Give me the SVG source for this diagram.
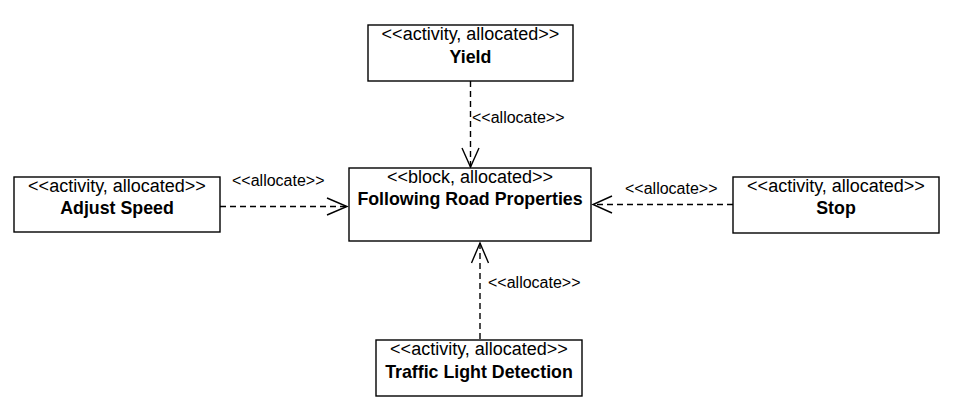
<svg xmlns="http://www.w3.org/2000/svg" width="959" height="409" viewBox="0 0 959 409">
<style>
.box{fill:#fff;stroke:#000;stroke-width:1.4}
.st{font-family:"Liberation Sans",Arial,sans-serif;font-size:18px;text-anchor:middle;fill:#000}
.nm{font-family:"Liberation Sans",Arial,sans-serif;font-size:17.8px;font-weight:bold;text-anchor:middle;fill:#000}
.lb{font-family:"Liberation Sans",Arial,sans-serif;font-size:16px;fill:#000}
.ln{fill:none;stroke:#000;stroke-width:1.4;stroke-dasharray:6 4}
.hd{fill:none;stroke:#000;stroke-width:1.4}
</style>
<rect width="959" height="409" fill="#fff"/>
<g id="connectors">
<g id="e-yield">
<line class="ln" x1="470.5" y1="81" x2="470.5" y2="167"/>
<polyline class="hd" points="462,148 470.5,167 479,148"/>
<text class="lb" x="472" y="123">&lt;&lt;allocate&gt;&gt;</text>
</g>
<g id="e-adjust">
<line class="ln" x1="220" y1="206.5" x2="347" y2="206.5"/>
<polyline class="hd" points="327,198 347,206.5 327,215"/>
<text class="lb" x="232" y="186">&lt;&lt;allocate&gt;&gt;</text>
</g>
<g id="e-stop">
<line class="ln" x1="733" y1="204.5" x2="593" y2="204.5"/>
<polyline class="hd" points="612,196 593,204.5 612,213"/>
<text class="lb" x="625" y="194">&lt;&lt;allocate&gt;&gt;</text>
</g>
<g id="e-traffic">
<line class="ln" x1="480" y1="339" x2="480" y2="243"/>
<polyline class="hd" points="471.5,263 480,243 488.5,263"/>
<text class="lb" x="488" y="288">&lt;&lt;allocate&gt;&gt;</text>
</g>
</g>
<g id="yield">
<rect class="box" x="368" y="25" width="205" height="56"/>
<text class="st" x="470.5" y="40">&lt;&lt;activity, allocated&gt;&gt;</text>
<text class="nm" x="470.5" y="63">Yield</text>
</g>
<g id="adjust-speed">
<rect class="box" x="14" y="177" width="206" height="55"/>
<text class="st" x="117" y="192">&lt;&lt;activity, allocated&gt;&gt;</text>
<text class="nm" x="117" y="214">Adjust Speed</text>
</g>
<g id="following">
<rect class="box" x="349" y="168" width="242" height="73"/>
<text class="st" x="470" y="183">&lt;&lt;block, allocated&gt;&gt;</text>
<text class="nm" x="470" y="205">Following Road Properties</text>
</g>
<g id="stop">
<rect class="box" x="733" y="177" width="206" height="56"/>
<text class="st" x="836" y="192">&lt;&lt;activity, allocated&gt;&gt;</text>
<text class="nm" x="836" y="214">Stop</text>
</g>
<g id="traffic">
<rect class="box" x="376" y="340" width="206" height="56"/>
<text class="st" x="479" y="355">&lt;&lt;activity, allocated&gt;&gt;</text>
<text class="nm" x="479" y="378">Traffic Light Detection</text>
</g>
</svg>
